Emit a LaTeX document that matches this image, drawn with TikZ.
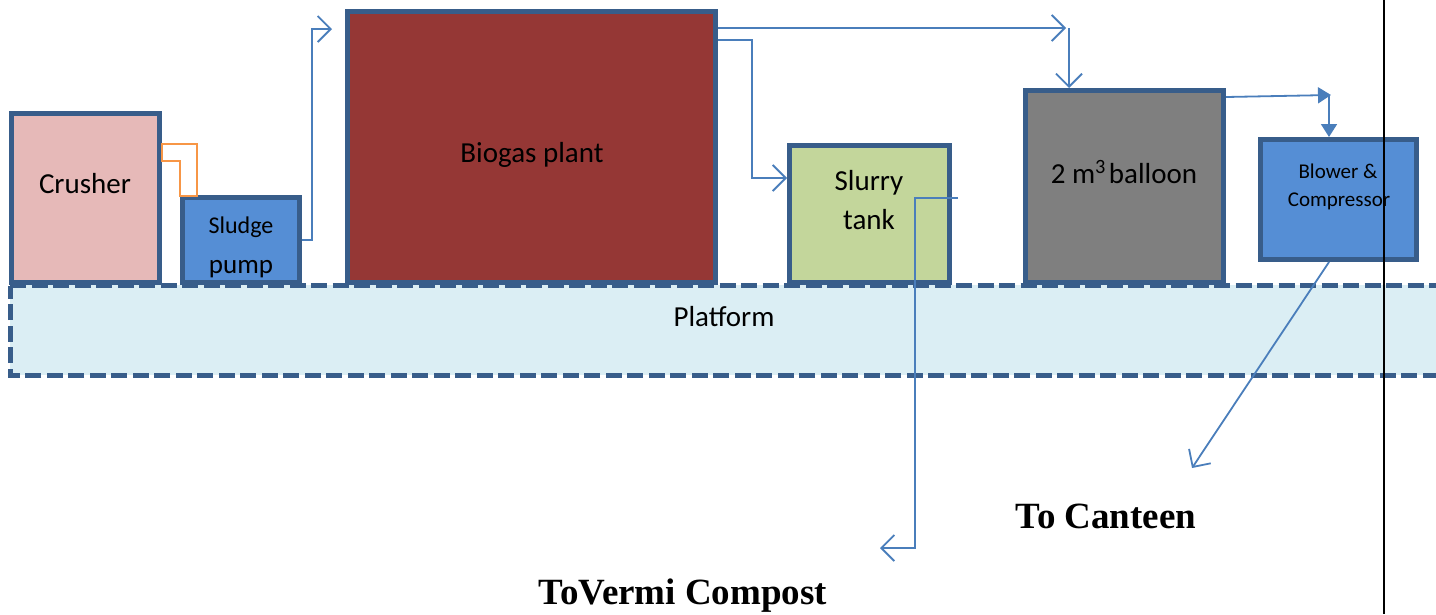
\documentclass[tikz,border=0pt]{standalone}
\usepackage{fontspec}
\setmainfont{Carlito}
\newfontfamily\serifbold{Liberation Serif}
\usetikzlibrary{arrows.meta}

\definecolor{edge}{HTML}{385D8A}
\definecolor{crushfill}{HTML}{E6B9B8}
\definecolor{bluefill}{HTML}{558ED5}
\definecolor{biofill}{HTML}{953735}
\definecolor{slurryfill}{HTML}{C3D69B}
\definecolor{balloonfill}{HTML}{7F7F7F}
\definecolor{platfill}{HTML}{DBEEF4}
\definecolor{pipe}{HTML}{4A7EBB}
\definecolor{hose}{HTML}{F79646}

\begin{document}
\begin{tikzpicture}[x=1pt,y=-1pt,
  unit/.style={draw=edge, line width=5pt, inner sep=0pt, rectangle},
  lbl/.style={inner sep=0pt, anchor=base, font=\fontsize{29}{34}\selectfont},
  small/.style={inner sep=0pt, anchor=base, font=\fontsize{21}{25}\selectfont},
  tag/.style={inner sep=0pt, anchor=base, font=\serifbold\bfseries\fontsize{37}{44}\selectfont},
  flow/.style={draw=pipe, line width=1.8pt, line join=miter,
    -{Straight Barb[length=13pt,width=26pt,line width=1.8pt]}},
  feed/.style={draw=pipe, line width=1.8pt,
    -{Triangle[length=13pt,width=16pt]}},
  deck/.style={edge, line width=5pt, dash pattern=on 16pt off 5.5pt}]
\useasboundingbox (0,0) rectangle (1436,614);
\clip (0,0) rectangle (1436,614);

% platform fill (outline drawn over the units later)
\fill[platfill] (10,285) rectangle (1460,375);

% process units
\node[unit, fill=crushfill, minimum width=148pt, minimum height=169pt] (crusher) at (85.5,198) {};
\node[unit, fill=bluefill, minimum width=117pt, minimum height=85pt] (sludge) at (241,240) {};
\node[unit, fill=biofill, minimum width=368pt, minimum height=271pt] (biogas) at (531.5,147) {};
\node[unit, fill=slurryfill, minimum width=160pt, minimum height=137pt] (slurry) at (869.5,214) {};
\node[unit, fill=balloonfill, minimum width=198pt, minimum height=192pt] (balloon) at (1124.5,186.5) {};
\node[unit, fill=bluefill, minimum width=156pt, minimum height=120pt] (blower) at (1338.5,199.5) {};

% platform outline
\draw[deck] (10,285.5) -- (1460,285.5);
\draw[deck] (1460,375.5) -- (10.5,375.5) -- (10.5,285.5);
\node[lbl] (platform) at (724,326) {Platform};

% unit labels
\node[lbl] (crusherlbl) at (85,193) {Crusher};
\node[inner sep=0pt, anchor=base, font=\fontsize{24}{28}\selectfont] (sludgelbl) at (241,233) {Sludge};
\node[inner sep=0pt, anchor=base, font=\fontsize{27}{32}\selectfont] (pumplbl) at (241,273) {pump};
\node[lbl] (biogaslbl) at (532,162) {Biogas plant};
\node[lbl] (slurrylbl) at (869,190) {Slurry};
\node[lbl] (tanklbl) at (869,229) {tank};
\node[lbl] (balloonlbl) at (1124,183) {2 m\textsuperscript{3}\hspace{0.1em}balloon};
\node[small] (blowerlbl) at (1338,178) {Blower \&};
\node[small] (complbl) at (1339,206) {Compressor};

% elbow chute between crusher and pump
\draw[hose, line width=1.3pt] (162,144) -- (197,144) -- (197,196) -- (180,196) -- (180,161) -- (162,161) -- cycle;

% free ends of the pipes
\coordinate (bioin) at (332,29);
\coordinate (gasend) at (1066,28);
\coordinate (gasdrop) at (1069,28);
\coordinate (feedend) at (1331,95);
\coordinate (slurryout) at (958,198);
\coordinate (compost) at (880,548);
\coordinate (canteen) at (1192,468);

% pipes
\draw[flow] (sludge.east) -- (312,240) -- (312,29) -- (bioin);
\draw[flow] (biogas.north east |- 0,28) -- (gasend);
\draw[flow] (gasdrop) -- (balloon.north -| gasdrop);
\draw[flow] (biogas.north east |- 0,40) -- (752,40) -- (752,178) -- (slurry.west |- 0,178);
\draw[flow] (slurryout) -- (915,198) -- (915,548) -- (compost);
\draw[feed] (balloon.north east |- 0,97) -- (feedend);
\draw[feed] (1329,95) -- (blower.north -| 1329,0);
\draw[flow] (blower.south -| 1329,0) -- (canteen);

% destinations
\node[tag] (canteenlbl) at (1106,528) {To Canteen};
\node[tag] (compostlbl) at (683,604) {ToVermi Compost};

% margin rule
\draw[black, line width=2.5pt] (1384,0) -- (1384,614);
\end{tikzpicture}
\end{document}
